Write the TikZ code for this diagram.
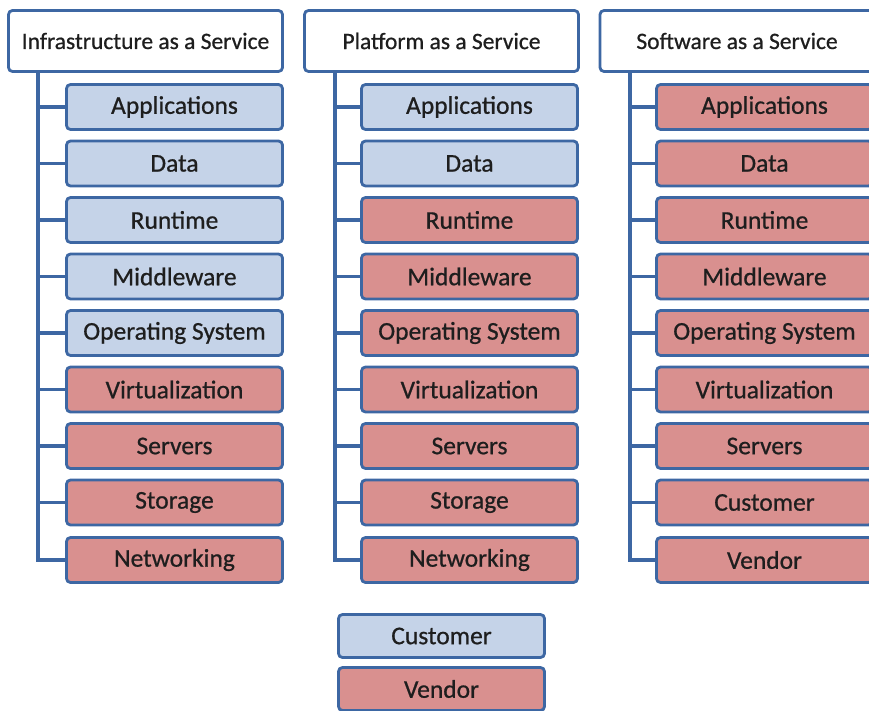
\documentclass[tikz,border=0pt]{standalone}
\usepackage{fontspec}
\setmainfont{Carlito}[UprightFeatures={FakeBold=0.7}]
\definecolor{edgeblue}{HTML}{3D67A3}
\definecolor{custfill}{HTML}{C5D3E8}
\definecolor{vendfill}{HTML}{D9908F}
\definecolor{txt}{HTML}{1E1E1E}
\begin{document}
\begin{tikzpicture}
[x=1pt,y=-1pt,
 every node/.style={draw=edgeblue,line width=2.8pt,rounded corners=4pt,text=txt,font=\fontsize{25.5}{28}\selectfont},
 head/.style={fill=white,minimum width=274pt,minimum height=61pt,font=\fontsize{23.5}{26}\selectfont},
 cust/.style={fill=custfill,minimum width=216pt,minimum height=45pt},
 vend/.style={fill=vendfill,minimum width=216pt,minimum height=45pt},
 trunk/.style={draw=edgeblue,line width=3.6pt}]
   \clip (0,0) rectangle (869,711);
   % Infrastructure as a Service
   \node[head] (h1) at (145.5,41) {Infrastructure as a Service};
   \node[cust] (a1) at (174.5,107) {Applications};
   \node[cust] (b1) at (174.5,163.5) {Data};
   \node[cust] (c1) at (174.5,220) {Runtime};
   \node[cust] (d1) at (174.5,276.5) {Middleware};
   \node[cust] (e1) at (174.5,333) {Operating System};
   \node[vend] (f1) at (174.5,389.5) {Virtualization};
   \node[vend] (g1) at (174.5,446) {Servers};
   \node[vend] (k1) at (174.5,502.5) {Storage};
   \node[vend] (m1) at (174.5,560) {Networking};
   % Platform as a Service
   \node[head] (h2) at (441.5,41) {Platform as a Service};
   \node[cust] (a2) at (469.5,107) {Applications};
   \node[cust] (b2) at (469.5,163.5) {Data};
   \node[vend] (c2) at (469.5,220) {Runtime};
   \node[vend] (d2) at (469.5,276.5) {Middleware};
   \node[vend] (e2) at (469.5,333) {Operating System};
   \node[vend] (f2) at (469.5,389.5) {Virtualization};
   \node[vend] (g2) at (469.5,446) {Servers};
   \node[vend] (k2) at (469.5,502.5) {Storage};
   \node[vend] (m2) at (469.5,560) {Networking};
   % Software as a Service
   \node[head] (h3) at (737,41) {Software as a Service};
   \node[vend] (a3) at (764.5,107) {Applications};
   \node[vend] (b3) at (764.5,163.5) {Data};
   \node[vend] (c3) at (764.5,220) {Runtime};
   \node[vend] (d3) at (764.5,276.5) {Middleware};
   \node[vend] (e3) at (764.5,333) {Operating System};
   \node[vend] (f3) at (764.5,389.5) {Virtualization};
   \node[vend] (g3) at (764.5,446) {Servers};
   \node[vend] (k3) at (764.5,502.5) {Customer};
   \node[vend] (m3) at (764.5,560) {Vendor};
   % legend
   \node[cust,minimum width=206pt,minimum height=43pt] (lc) at (441.5,636) {Customer};
   \node[vend,minimum width=206pt,minimum height=43pt] (lv) at (441.5,689) {Vendor};
   % trunk lines
   \coordinate (t1) at (38,72);
   \coordinate (t2) at (335,72);
   \coordinate (t3) at (630,72);
   \path[trunk]
    (t1) |- (a1.west) (t1) |- (b1.west) (t1) |- (c1.west)
    (t1) |- (d1.west) (t1) |- (e1.west) (t1) |- (f1.west)
    (t1) |- (g1.west) (t1) |- (k1.west) (t1) |- (m1.west)
    (t2) |- (a2.west) (t2) |- (b2.west) (t2) |- (c2.west)
    (t2) |- (d2.west) (t2) |- (e2.west) (t2) |- (f2.west)
    (t2) |- (g2.west) (t2) |- (k2.west) (t2) |- (m2.west)
    (t3) |- (a3.west) (t3) |- (b3.west) (t3) |- (c3.west)
    (t3) |- (d3.west) (t3) |- (e3.west) (t3) |- (f3.west)
    (t3) |- (g3.west) (t3) |- (k3.west) (t3) |- (m3.west)
    ;
  \end{tikzpicture}
\end{document}
